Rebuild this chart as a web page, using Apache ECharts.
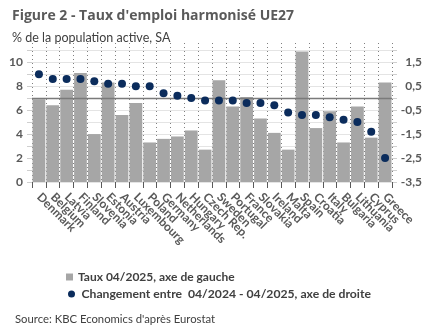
<!DOCTYPE html>
<html><head><meta charset="utf-8">
<script src="https://cdn.jsdelivr.net/npm/echarts@6/dist/echarts.min.js"></script>
<style>html,body{margin:0;padding:0;background:#fff}#c{width:432px;height:334px}</style>
</head><body><div id="c"></div>
<script>
const categories = ['Denmark','Belgium','Latvia','Finland','Slovenia','Estonia','Austria','Luxembourg','Poland','Germany','Netherlands','Hungary','Czech Rep.','Sweden','Portugal','France','Slovakia','Ireland','Malta','Spain','Croatia','Italy','Bulgaria','Lithuania','Cyprus','Greece'];
const rate2025 = [6.9,6.4,7.7,9.1,4.0,8.3,5.6,6.6,3.3,3.6,3.8,4.3,2.7,8.5,6.3,7.1,5.3,4.1,2.7,10.9,4.5,5.9,3.3,6.3,3.7,8.3];
const change2024_2025 = [1.0,0.8,0.8,0.8,0.7,0.6,0.6,0.5,0.5,0.2,0.1,0.0,-0.1,-0.1,-0.1,-0.2,-0.2,-0.3,-0.6,-0.7,-0.7,-0.8,-0.9,-1.0,-1.4,-2.5];
const leftTickLabels = [0,2,4,6,8,10];
const rightTickLabels = [-3.5,-2.5,-1.5,-0.5,0.5,1.5];
const separatorAfter = 'Hungary';
const barName = 'Taux 04/2025, axe de gauche';
const dotName = 'Changement entre  04/2024 - 04/2025, axe de droite';

const FONT = 'Lato, "Open Sans", sans-serif';
const sepIndex = categories.indexOf(separatorAfter) + 1;
const leftMax = 11.6;
const chart = echarts.init(document.getElementById('c'), null, {renderer: 'canvas'});
chart.setOption({
  animation: false,
  textStyle: {fontFamily: FONT},
  title: [
    {text: "Figure 2 - Taux d'emploi harmonisé UE27", left: 7, top: 4,
     textStyle: {fontFamily: '"Open Sans", Lato, sans-serif', fontSize: 14, fontWeight: 'bold', color: '#5a5a5a'}},
    {text: '% de la population active, SA', left: 7, top: 26,
     textStyle: {fontFamily: FONT, fontSize: 12.5, fontWeight: 'normal', color: '#404040'}},
    {text: "Source: KBC Economics d'après Eurostat", left: 10, top: 309,
     textStyle: {fontFamily: FONT, fontSize: 11.3, fontWeight: 'normal', color: '#404040'}}
  ],
  legend: [
    {data: [barName], left: 61, top: 266, itemWidth: 7, itemHeight: 7, icon: 'rect',
     textStyle: {fontFamily: FONT, fontSize: 12, fontWeight: 'bold', color: '#404040'}},
    {data: [dotName], left: 63, top: 283, itemWidth: 10, itemHeight: 7, icon: 'circle',
     textStyle: {fontFamily: FONT, fontSize: 12.2, fontWeight: 'bold', color: '#404040'}}
  ],
  grid: {left: 32, right: 40, top: 43, bottom: 152, containLabel: false},
  xAxis: [
    {type: 'category', data: categories, boundaryGap: true, offset: 7,
     axisLine: {show: false},
     axisTick: {show: true, length: 6, lineStyle: {color: '#595959'}},
     axisLabel: {rotate: -45, interval: 0, margin: 6, fontFamily: FONT, fontSize: 12, fontWeight: 'bold', color: '#595959'},
     splitLine: {show: true, lineStyle: {color: '#808080', type: [1, 3], width: 1}}},
    {type: 'value', min: 0, max: categories.length, show: false}
  ],
  yAxis: [
    {type: 'value', position: 'left', min: 0, max: leftMax, interval: 1,
     axisLine: {show: false},
     axisTick: {show: true, length: 5, lineStyle: {color: '#cfcfcf'}},
     axisLabel: {margin: 9, showMaxLabel: false, fontFamily: FONT, fontSize: 12, fontWeight: 'bold', color: '#595959',
       formatter: v => leftTickLabels.includes(v) ? String(v) : ''},
     splitLine: {show: true, showMaxLine: false, lineStyle: {color: '#e4e4e4', width: 1}}},
    {type: 'value', position: 'right', min: -3.5, max: leftMax / 2 - 3.5, interval: 0.5,
     axisLine: {show: false},
     axisTick: {show: true, length: 5, lineStyle: {color: '#cfcfcf'}},
     axisLabel: {margin: 30, align: 'right', showMaxLabel: false, fontFamily: FONT, fontSize: 12, fontWeight: 'bold', color: '#595959',
       formatter: v => rightTickLabels.includes(v) ? String(v).replace('.', ',') : ''},
     splitLine: {show: false}}
  ],
  series: [
    {name: barName, type: 'bar', xAxisIndex: 0, yAxisIndex: 0, data: rate2025,
     barCategoryGap: '8%', itemStyle: {color: '#a6a6a6'}, z: 2},
    {name: dotName, type: 'scatter', xAxisIndex: 0, yAxisIndex: 1, data: change2024_2025,
     symbolSize: 8, itemStyle: {color: '#0b2c5c', opacity: 1}, z: 5,
     markLine: {silent: true, symbol: 'none', label: {show: false}, z: 4,
       lineStyle: {color: '#7a7a7a', width: 1.3, type: 'solid'},
       data: [{yAxis: 0}]}},
    {name: 'separator', type: 'line', xAxisIndex: 1, yAxisIndex: 0, data: [],
     markLine: {silent: true, symbol: 'none', label: {show: false},
       lineStyle: {color: '#7a7a7a', width: 2, type: 'solid'},
       data: [[{coord: [sepIndex, -0.75]}, {coord: [sepIndex, leftMax]}]]}}
  ]
});
</script></body></html>
